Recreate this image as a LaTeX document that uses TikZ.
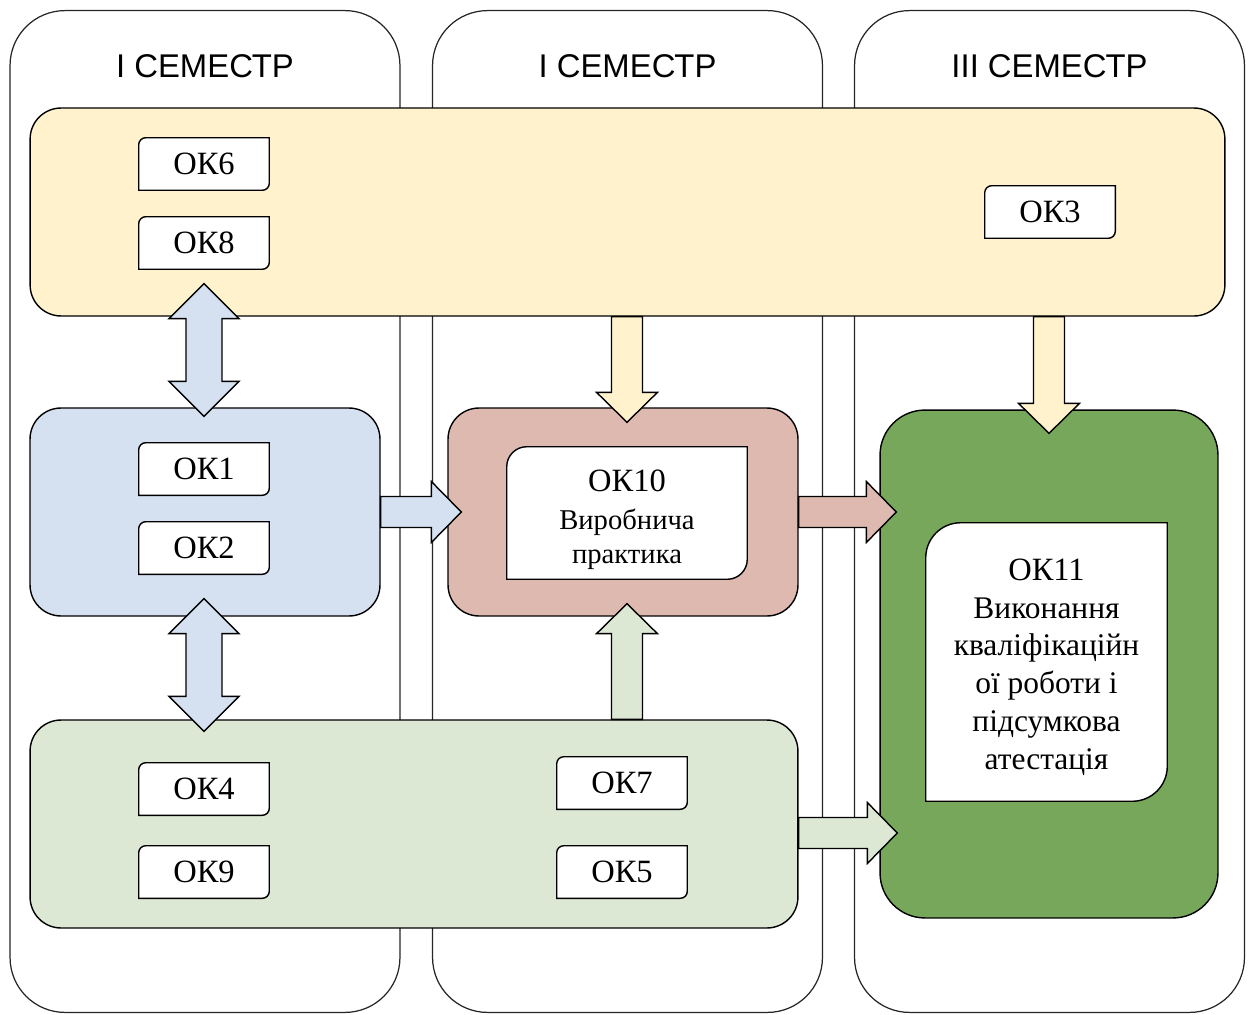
\documentclass[tikz,border=0pt]{standalone}
\usepackage{fontspec}
\setmainfont{Liberation Serif}
\setsansfont{Liberation Sans}
\usetikzlibrary{calc,positioning}

\definecolor{yellowC}{HTML}{FFF2CC}
\definecolor{blueC}{HTML}{D5E1F1}
\definecolor{pinkC}{HTML}{DEB9AF}
\definecolor{lgreenC}{HTML}{DCE8D4}
\definecolor{dgreenC}{HTML}{77A75B}

\newcommand\practtext{\fontsize{16.3}{19}\selectfont}
\newcommand\finaltext{\fontsize{17.9}{21.5}\selectfont}

\tikzset{
  lane/.style={draw=black!85, line width=0.7pt, fill=white,
    rounded corners=1.1cm, inner sep=0pt,
    minimum width=7.8cm, minimum height=20.04cm},
  lanetitle/.style={font=\sffamily\fontsize{18.7}{22}\selectfont},
  band/.style={draw, line width=0.8pt, rounded corners=0.62cm,
    inner sep=0pt, minimum height=4.16cm},
  card/.style={inner sep=0pt, align=center,
    font=\fontsize{18.5}{21.5}\selectfont,
    path picture={
      \draw[fill=white, line width=0.8pt]
        ([shift={(0.4pt,-0.4pt-#1)}]path picture bounding box.north west)
        arc[start angle=180, end angle=90, radius=#1]
        -- ([shift={(-0.4pt,-0.4pt)}]path picture bounding box.north east)
        -- ([shift={(-0.4pt,0.4pt+#1)}]path picture bounding box.south east)
        arc[start angle=0, end angle=-90, radius=#1]
        -- ([shift={(0.4pt,0.4pt)}]path picture bounding box.south west)
        -- cycle;}},
  card/.default=0.14cm,
  okbox/.style={card, minimum width=2.64cm, minimum height=1.08cm},
  % block arrow: shaft half width, head half width, head length
  fat/.style n args={3}{draw, line width=0.8pt, to path={
    let \p1=(\tikztostart), \p2=(\tikztotarget),
        \n1={veclen(\x2-\x1,\y2-\y1)}, \n2={(\x2-\x1)/\n1},
        \n3={(\y2-\y1)/\n1} in
    ({\x1-\n3*#1},{\y1+\n2*#1})
    -- ({\x2-\n2*#3-\n3*#1},{\y2-\n3*#3+\n2*#1})
    -- ({\x2-\n2*#3-\n3*#2},{\y2-\n3*#3+\n2*#2})
    -- (\p2)
    -- ({\x2-\n2*#3+\n3*#2},{\y2-\n3*#3-\n2*#2})
    -- ({\x2-\n2*#3+\n3*#1},{\y2-\n3*#3-\n2*#1})
    -- ({\x1+\n3*#1},{\y1-\n2*#1}) -- cycle}},
  fatboth/.style n args={3}{draw, line width=0.8pt, to path={
    let \p1=(\tikztostart), \p2=(\tikztotarget),
        \n1={veclen(\x2-\x1,\y2-\y1)}, \n2={(\x2-\x1)/\n1},
        \n3={(\y2-\y1)/\n1} in
    (\p1)
    -- ({\x1+\n2*#3-\n3*#2},{\y1+\n3*#3+\n2*#2})
    -- ({\x1+\n2*#3-\n3*#1},{\y1+\n3*#3+\n2*#1})
    -- ({\x2-\n2*#3-\n3*#1},{\y2-\n3*#3+\n2*#1})
    -- ({\x2-\n2*#3-\n3*#2},{\y2-\n3*#3+\n2*#2})
    -- (\p2)
    -- ({\x2-\n2*#3+\n3*#2},{\y2-\n3*#3-\n2*#2})
    -- ({\x2-\n2*#3+\n3*#1},{\y2-\n3*#3-\n2*#1})
    -- ({\x1+\n2*#3+\n3*#1},{\y1+\n3*#3-\n2*#1})
    -- ({\x1+\n2*#3+\n3*#2},{\y1+\n3*#3-\n2*#2}) -- cycle}},
  flow/.style={fat={0.31cm}{0.61cm}{0.6cm}},
  link/.style={fatboth={0.36cm}{0.7cm}{0.7cm}},
}

\begin{document}
\begin{tikzpicture}[x=0.02cm,y=-0.02cm]
    \useasboundingbox (0,0) rectangle (1250,1014);

    % Semesters.
    \node[lane] (semi) at (205,511.5) {};
    \node[lane] (semii) at (627.5,511.5) {};
    \node[lane] (semiii) at (1049.5,511.5) {};
    \node[lanetitle] at ([yshift=-1.13cm]semi.north) {І СЕМЕСТР};
    \node[lanetitle] at ([yshift=-1.13cm]semii.north) {І СЕМЕСТР};
    \node[lanetitle] at ([yshift=-1.13cm]semiii.north) {ІІІ СЕМЕСТР};

    % Groups of components.
    \node[band, fill=yellowC, minimum width=23.9cm] (topband) at (627.5,212) {};
    \node[band, fill=blueC, minimum width=7cm] (blueband) at (205,512) {};
    \node[band, fill=pinkC, minimum width=7cm] (pinkband) at (623,512) {};
    \node[band, fill=lgreenC, minimum width=15.36cm] (greenband) at (414,824) {};
    \node[band, fill=dgreenC, minimum width=6.76cm, minimum height=10.16cm,
        rounded corners=0.9cm] (finalbox) at (1049,664) {};

    % Components.
    \node[okbox] (ok6) at (204,164) {ОК6};
    \node[okbox] (ok8) at (204,243) {ОК8};
    \node[okbox] (ok3) at (1050,212) {ОК3};
    \node[okbox] (ok1) at (204,469) {ОК1};
    \node[okbox] (ok2) at (204,548) {ОК2};
    \node[okbox] (ok4) at (204,789) {ОК4};
    \node[okbox] (ok9) at (204,872) {ОК9};
    \node[okbox] (ok7) at (622,783) {ОК7};
    \node[okbox] (ok5) at (622,872) {ОК5};
    \node[card=0.4cm, minimum width=4.84cm, minimum height=2.68cm] (ok10)
        at (627,513) {\rule{0pt}{20pt}ОК10\\{\practtext Виробнича}\\[-2.4pt]
        {\practtext практика}};
    \node[card=0.7cm, minimum width=4.86cm, minimum height=5.6cm] (ok11)
        at (1046.5,662)
        {\rule{0pt}{18pt}ОК11\\{\finaltext Виконання}\\{\finaltext кваліфікаційн}\\
        {\finaltext ої роботи і}\\{\finaltext підсумкова}\\{\finaltext атестація}};

    % Links.
    \draw[link, fill=blueC] ([yshift=0.66cm]topband.south -| ok8.center)
        to ([yshift=-0.18cm]blueband.north -| ok8.center);
    \draw[link, fill=blueC] ([yshift=0.36cm]blueband.south -| ok2.center)
        to ([yshift=-0.24cm]greenband.north -| ok2.center);
    \draw[flow, fill=yellowC] (topband.south -| ok10.center)
        to ([yshift=-0.3cm]pinkband.north -| ok10.center);
    \draw[flow, fill=yellowC] (topband.south -| finalbox.center)
        to ([yshift=-0.48cm]finalbox.north);
    \draw[flow, fill=blueC] (blueband.east)
        to ([xshift=0.28cm]pinkband.west);
    \draw[flow, fill=pinkC] (pinkband.east)
        to ([xshift=0.34cm]finalbox.west |- pinkband.east);
    \draw[flow, fill=lgreenC] ([yshift=-0.18cm]greenband.east)
        to ([xshift=0.36cm,yshift=-0.18cm]finalbox.west |- greenband.east);
    \draw[flow, fill=lgreenC] (greenband.north -| ok10.center)
        to ([yshift=0.26cm]pinkband.south -| ok10.center);
\end{tikzpicture}
\end{document}
